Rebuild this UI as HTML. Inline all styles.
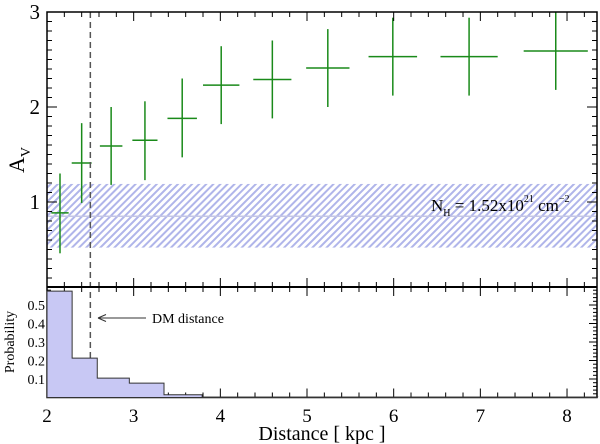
<!DOCTYPE html>
<html><head><meta charset="utf-8"><style>
html,body{margin:0;padding:0;background:#fff;}
svg{display:block;}
text{font-family:"Liberation Serif","DejaVu Serif",serif;}
</style></head><body>
<svg id="chart" width="600" height="444" viewBox="0 0 600 444" xmlns="http://www.w3.org/2000/svg" font-family="Liberation Serif, serif">
<defs>
<pattern id="hatch" patternUnits="userSpaceOnUse" width="5" height="5" patternTransform="rotate(45)">
<rect width="5" height="5" fill="#fff"/>
<rect width="2" height="5" fill="#b0b5ea"/>
</pattern>
</defs>
<g id="topPanel"></g>
<g id="botPanel"></g>
</svg>
<script>
const distances=[2.15,2.40,2.74,3.13,3.56,4.01,4.60,5.24,5.99,6.87,7.87];
const distErr=[0.10,0.115,0.13,0.145,0.17,0.21,0.22,0.25,0.28,0.33,0.37];
const avValues=[0.885,1.41,1.59,1.65,1.88,2.23,2.29,2.41,2.53,2.53,2.59];
const avLow=[0.46,0.99,1.18,1.23,1.47,1.82,1.88,2.0,2.12,2.12,2.18];
const avHigh=[1.30,1.83,2.0,2.06,2.30,2.64,2.70,2.82,2.94,2.94,3.0];
const binEdges=[2,2.29,2.58,2.95,3.35,3.79,8.35];
const binProb=[0.575,0.213,0.105,0.078,0.015,0.002];
const xTicks=[2,3,4,5,6,7,8];
const avTicks=[1,2,3];
const probTicks=[0.1,0.2,0.3,0.4,0.5];
const band=[0.52,0.85,1.19];
const dmDistance=2.5;

const NS="http://www.w3.org/2000/svg";
const FF='Liberation Serif, serif';
const L=47,R=597,T=12,M=287,B=397.5;
const sx=v=>L+(v-2)*86.67;
const sy=v=>T+(3-v)*95;
const sp=v=>B-v*185;
function el(p,tag,a,txt){const e=document.createElementNS(NS,tag);for(const k in a)e.setAttribute(k,a[k]);if(tag==='text')e.setAttribute('font-family',FF);if(txt!==undefined)e.textContent=txt;p.appendChild(e);return e;}
const topG=document.getElementById('topPanel'),botG=document.getElementById('botPanel');

let r=el(topG,'rect',{x:L,y:sy(band[2]),width:R-L,height:sy(band[0])-sy(band[2]),fill:'url(#hatch)'});


let cl=el(topG,'line',{x1:L,x2:R,y1:sy(band[1]),y2:sy(band[1]),stroke:'#c4c6e6','stroke-width':1.5});


let nt=el(topG,'text',{x:431,y:211,'font-size':17,fill:'#000'});


nt.innerHTML='N<tspan font-size="10" dy="5">H</tspan><tspan dy="-5"> = 1.52x10</tspan><tspan font-size="10" dy="-9">21</tspan><tspan dy="9"> cm</tspan><tspan font-size="10" dy="-9">−2</tspan>';

distances.forEach((d,i)=>{
  const g=el(topG,'g',{stroke:'#1a8a1a','stroke-width':1.5});
  
  
  el(g,'line',{x1:sx(d-distErr[i]),x2:sx(d+distErr[i]),y1:sy(avValues[i]),y2:sy(avValues[i])});
  el(g,'line',{x1:sx(d),x2:sx(d),y1:sy(avLow[i]),y2:sy(avHigh[i])});
});

let pd='M'+L+' '+B;
binProb.forEach((p,i)=>{pd+=' L'+sx(binEdges[i])+' '+sp(p)+' L'+sx(binEdges[i+1])+' '+sp(p);});
pd+=' L'+R+' '+B+' Z';
let h=el(botG,'path',{d:pd,fill:'#c8c8f4',stroke:'#333','stroke-width':1});



let dl=el(topG,'line',{x1:sx(dmDistance),x2:sx(dmDistance),y1:T,y2:B,stroke:'#555','stroke-width':1.5,'stroke-dasharray':'6,4'});



let ar=el(botG,'g',{});


el(ar,'line',{x1:98,x2:146,y1:318,y2:318,stroke:'#333','stroke-width':1});
el(ar,'path',{d:'M98 318 L106 314.5 M98 318 L106 321.5',stroke:'#333','stroke-width':1,fill:'none'});
el(ar,'text',{x:152,y:323,'font-size':14},'DM distance');

const f=el(topG,'g',{fill:'none',stroke:'#000','stroke-width':1.5});


el(f,'rect',{x:L,y:T,width:R-L,height:B-T});
el(f,'line',{x1:L,x2:R,y1:M,y2:M,'stroke-width':2});

const tk=el(topG,'g',{stroke:'#000','stroke-width':1});


for(let v=2;v<=8.35;v+=0.2){
  const x=sx(v),maj=Math.abs(v-Math.round(v))<0.01,len=maj?9:5;
  [[T,1],[M,-1],[M,1],[B,-1]].forEach(([y,s])=>el(tk,'line',{x1:x,x2:x,y1:y,y2:y+s*len}));
}
for(let v=0.2;v<3.001;v+=0.1){
  const y=sy(v);if(y>M-1)continue;const maj=Math.abs(v-Math.round(v))<0.01,len=maj?10:5;
  el(tk,'line',{x1:L,x2:L+len,y1:y,y2:y});el(tk,'line',{x1:R,x2:R-len,y1:y,y2:y});
}
for(let v=0.02;v<0.6;v+=0.02){
  const y=sp(v);const maj=Math.abs(v*10-Math.round(v*10))<0.01,len=maj?8:4;
  el(tk,'line',{x1:L,x2:L+len,y1:y,y2:y});el(tk,'line',{x1:R,x2:R-len,y1:y,y2:y});
}

xTicks.forEach(v=>{let t=el(botG,'text',{x:sx(v),y:422,'font-size':19,'text-anchor':'middle'},String(v));
  
  });
avTicks.forEach(v=>{let t=el(topG,'text',{x:40,y:sy(v)+7,'font-size':21,'text-anchor':'end'},String(v));
  
  });
probTicks.forEach(v=>{let t=el(botG,'text',{x:45,y:sp(v)+5,'font-size':14,'text-anchor':'end'},String(v));
  
  });
let xt=el(botG,'text',{x:322,y:440,'font-size':20,'text-anchor':'middle'},'Distance [ kpc ]');


let yt=el(topG,'text',{transform:'translate(24,160) rotate(-90)','font-size':22,'text-anchor':'middle'});


yt.innerHTML='A<tspan font-size="14" dy="6">V</tspan>';
let pt=el(botG,'text',{transform:'translate(14,342) rotate(-90)','font-size':14,'text-anchor':'middle'},'Probability');


</script>
</body></html>
